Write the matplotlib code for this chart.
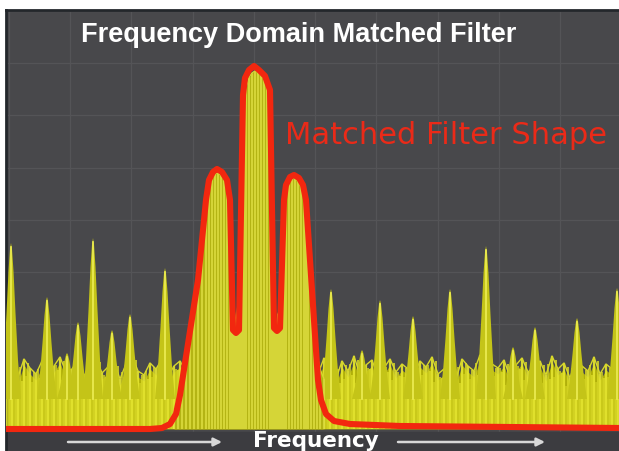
import matplotlib
matplotlib.use("Agg")
import matplotlib.pyplot as plt
import numpy as np

# ---------------- data (frequency bin, level) ----------------
noise_bins = np.arange(0, 613, 6)
noise_levels = [58, 66, 52, 70, 61, 55, 68, 49, 63, 72, 57, 60, 69, 53, 64, 71, 56,
                62, 67, 50, 65, 73, 58, 54, 66, 60, 70, 52, 63, 68, 57, 61, 55, 59,
                60, 58, 62, 56, 64, 60, 57, 63, 59, 61, 58, 62, 60, 57, 63, 59, 61,
                66, 55, 71, 62, 50, 68, 58, 73, 54, 64, 69, 52, 61, 70, 57, 65, 60,
                53, 68, 62, 72, 55, 60, 67, 50, 70, 63, 58, 74, 56, 65, 61, 69, 52,
                64, 71, 57, 62, 68, 54, 73, 60, 66, 51, 69, 63, 58, 72, 55, 65, 60, 67]

spike_bins = [5, 41, 61, 72, 87, 106, 124, 159, 325, 356, 374, 407, 444, 480, 507, 529, 571, 611]
spike_levels = [186, 132, 76, 107, 191, 99, 115, 161, 140, 79, 129, 113, 140, 183, 82, 102, 111, 141]

signal_bins = [168, 172, 176, 180, 184, 188, 192, 196, 200, 203, 206, 209, 212, 215, 218, 221,
               224, 226, 228, 230, 232, 234, 236, 238, 240, 243, 246, 249, 252, 255, 258, 261,
               264, 266, 268, 270, 272, 274, 276, 278, 280, 283, 286, 289, 292, 295, 298, 300,
               302, 305, 308, 311, 314, 318]
signal_levels = [20, 35, 60, 80, 100, 125, 145, 190, 225, 245, 252, 255, 256, 254, 250, 244,
                 225, 160, 120, 105, 125, 110, 170, 300, 340, 352, 356, 358, 357, 354, 350, 345,
                 335, 250, 130, 100, 115, 120, 160, 225, 240, 247, 250, 251, 248, 242, 235, 222,
                 190, 140, 100, 75, 60, 50]

filter_bins = [0, 144, 156, 164, 170, 174, 192, 200, 203, 207, 211, 216, 221, 224, 227, 230, 233,
               237, 239, 243, 248, 253, 259, 264, 268, 271, 274, 278, 280, 284, 288, 293, 297,
               300, 306, 312, 315, 320, 328, 344, 394, 613]
filter_levels = [0, 0, 1, 5, 15, 34, 149, 229, 249, 257, 260, 257, 249, 229, 99, 96, 99,
                 334, 351, 359, 363, 359, 353, 339, 101, 98, 101, 229, 244, 252, 254, 251, 244,
                 229, 139, 49, 29, 15, 8, 5, 3, 1]

title = "Frequency Domain Matched Filter"
filter_label = "Matched Filter Shape"
axis_label = "Frequency"

# ---------------- figure ----------------
W, H = 619, 451
fig = plt.figure(figsize=(W / 100, H / 100), dpi=100, facecolor="white")
ax = fig.add_axes([6 / W, 0, 613 / W, 441 / H])
ax.set_facecolor("#48484b")
ax.set_xlim(0, 613)
ax.set_ylim(-22, 419)
ax.set_xticks([])
ax.set_yticks([])
for s in ["left", "top"]:
    ax.spines[s].set_color("#23272b")
    ax.spines[s].set_linewidth(2)
for s in ["right", "bottom"]:
    ax.spines[s].set_visible(False)

# grid
for k in range(10):
    ax.axvline(2.7 + 61.3 * k, color="#545457", lw=0.9, zorder=0)
for k in range(1, 9):
    ax.axhline(52.3 * k, color="#545457", lw=0.9, zorder=0)

# bottom strip
ax.axhspan(-22, -3, color="#3c3c40", zorder=1)

# noise floor
nl = np.array(noise_levels)
ax.fill_between(noise_bins, 0, nl - 6, color="#b0af0a", zorder=2, lw=0)
ax.vlines(noise_bins, 0, nl, color="#e6e630", lw=1.6, alpha=0.9, zorder=3)
ax.vlines(noise_bins[:-1] + 2, 0, nl[1:] - 8, color="#cfcf1e", lw=1.3, alpha=0.9, zorder=3)
ax.vlines(noise_bins[:-1] + 4, 0, nl[:-1] - 4, color="#dada28", lw=1.3, alpha=0.9, zorder=3)
ax.plot(noise_bins, nl, color="#d8d82a", lw=1.0, zorder=3)

# spikes
for b, h in zip(spike_bins, spike_levels):
    base = 30
    d = h - base
    xs = [b - 10, b - 7, b - 4.5, b - 2.5, b - 1, b, b + 1, b + 2.5, b + 4.5, b + 7, b + 10]
    ys = [base, base + 0.25 * d, base + 0.55 * d, base + 0.82 * d, base + 0.96 * d, h,
          base + 0.96 * d, base + 0.82 * d, base + 0.55 * d, base + 0.25 * d, base]
    ax.fill(xs, ys, color="#c4c418", zorder=4, lw=0)
    ax.plot([b, b], [base, h - 4], color="#eeee55", lw=1.2, zorder=5)

# signal lobes
ax.fill_between(signal_bins, 0, signal_levels, color="#b4b414", zorder=4, lw=0)
ax.vlines(signal_bins, 0, signal_levels, color="#e8e84a", lw=1.1, alpha=0.85, zorder=5)
ax.plot(signal_bins, signal_levels, color="#d8d830", lw=1.0, zorder=5)

# matched filter
ax.plot(filter_bins, filter_levels, color="#f2270f", lw=4.4, zorder=6,
        solid_joinstyle="round", solid_capstyle="round")

# texts
fig.text(299 / W, 1 - 35 / H, title, color="white", fontsize=19.5, fontweight="bold",
         family="Liberation Sans", ha="center", va="center")
fig.text(446 / W, 1 - 136 / H, filter_label, color="#ea2a18", fontsize=22,
         family="DejaVu Sans", ha="center", va="center")
fig.text(316 / W, 1 - 441 / H, axis_label, color="white", fontsize=15.5, fontweight="bold",
         family="DejaVu Sans", ha="center", va="center")

for x0, x1 in [(68, 222), (398, 545)]:
    ax.annotate("", xy=(x1 / W, 1 - 442 / H), xytext=(x0 / W, 1 - 442 / H),
                xycoords="figure fraction", textcoords="figure fraction",
                arrowprops=dict(arrowstyle="-|>", color="#d8d8d8", lw=1.8,
                                mutation_scale=12, shrinkA=0, shrinkB=0))

fig.savefig("out.png", dpi=100, facecolor="white")
